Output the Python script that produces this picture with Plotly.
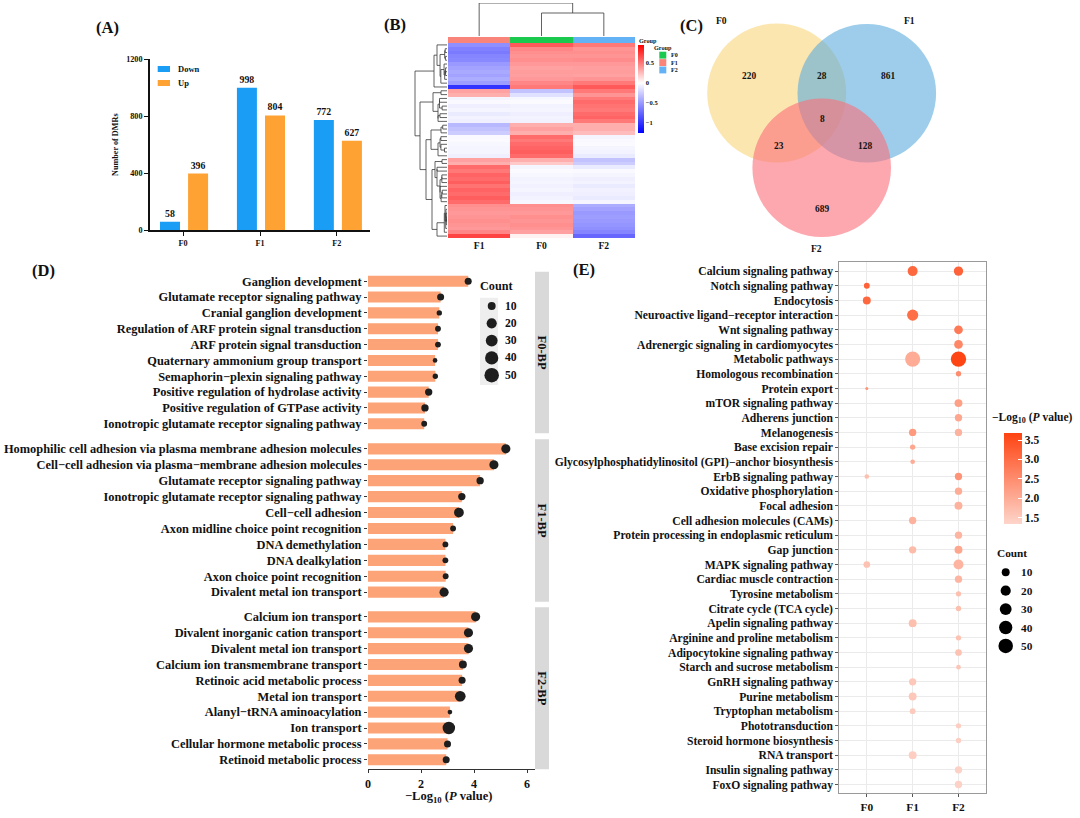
import numpy as np
import plotly.graph_objects as go

W, H = 1080, 818
FONT = "Liberation Serif"

# ---------------- data ----------------
# (A) DMR counts
dmr_groups = ["F0", "F1", "F2"]
dmr_down = [58, 998, 772]
dmr_up = [396, 804, 627]

# (B) heatmap (columns displayed F1, F0, F2), one value per row
heat_cols = ["F1", "F0", "F2"]
heat_F1 = [-0.55, -0.62, -0.65, -0.6, -0.58, -0.5, -0.45, -0.42, -0.45, -0.4, -0.48,
           -1.0,
           0.35, 0.3,
           -0.05, -0.03, -0.08, -0.05, -0.1, -0.06, -0.08,
           -0.35, -0.3, -0.25,
           -0.03, -0.02, -0.04, -0.05, -0.05, -0.08,
           0.35, 0.3,
           0.55, 0.5, 0.58, 0.55, 0.6, 0.52, 0.58, 0.55, 0.6, 0.55,
           0.42, 0.4, 0.38, 0.4, 0.42, 0.4, 0.38, 0.45, 0.7]
heat_F0 = [0.62, 0.45, 0.42, 0.4, 0.42, 0.38, 0.35, 0.37, 0.36, 0.38, 0.45,
           0.5,
           -0.3, -0.15,
           -0.04, -0.02, -0.06, -0.05, -0.08, -0.06, -0.07,
           0.3, 0.35, 0.3,
           0.55, 0.5, 0.55, 0.58, 0.6, 0.55,
           0.3, 0.2,
           -0.05, -0.02, -0.04, -0.06, -0.05, -0.07, -0.05, -0.08, -0.06, -0.04,
           0.42, 0.4, 0.38, 0.42, 0.4, 0.42, 0.4, 0.35, 0.05]
heat_F2 = [0.5, 0.4, 0.42, 0.4, 0.43, 0.38, 0.36, 0.37, 0.35, 0.4, 0.5,
           0.62,
           0.5, 0.4,
           0.5, 0.55, 0.52, 0.5, 0.55, 0.58, 0.5,
           0.3, 0.3, 0.25,
           -0.05, -0.03, -0.02, -0.05, -0.06, -0.1,
           -0.3, -0.25,
           -0.1, -0.03, -0.05, -0.08, -0.06, -0.1, -0.07, -0.08, -0.1, -0.05,
           -0.4, -0.45, -0.5, -0.48, -0.5, -0.52, -0.55, -0.6, -0.75]
row_block_sizes = [11, 1, 2, 7, 3, 6, 2, 10, 9]
row_block_heights = [10, 0, 6, 9, 6, 9, 5, 10, 10]
row_tree = [32, [13, 0, 1], [27, [14, 2, 3], [21, [16, 4, 5], [15, [12, 6, 7], 8]]]]
col_tree = [33, 0, [23, 1, 2]]
group_colors = {"F0": "#1CC94F", "F1": "#F98479", "F2": "#63B2F6"}

# (C) Venn counts
venn_sets = ["F0", "F1", "F2"]
venn_regions = ["F0", "F0&F1", "F1", "F0&F1&F2", "F0&F2", "F1&F2", "F2"]
venn_counts = [220, 28, 861, 8, 23, 128, 689]

# (D) GO BP enrichment
d_f0_terms = ["Ganglion development", "Glutamate receptor signaling pathway",
              "Cranial ganglion development", "Regulation of ARF protein signal transduction",
              "ARF protein signal transduction", "Quaternary ammonium group transport",
              "Semaphorin\u2212plexin signaling pathway", "Positive regulation of hydrolase activity",
              "Positive regulation of GTPase activity", "Ionotropic glutamate receptor signaling pathway"]
d_f0_logp = [3.78, 2.74, 2.69, 2.64, 2.64, 2.53, 2.54, 2.29, 2.15, 2.12]
d_f0_count = [7, 7, 3, 4, 4, 2, 3, 8, 8, 4]
d_f1_terms = ["Homophilic cell adhesion via plasma membrane adhesion molecules",
              "Cell\u2212cell adhesion via plasma\u2212membrane adhesion molecules",
              "Glutamate receptor signaling pathway", "Ionotropic glutamate receptor signaling pathway",
              "Cell\u2212cell adhesion", "Axon midline choice point recognition",
              "DNA demethylation", "DNA dealkylation", "Axon choice point recognition",
              "Divalent metal ion transport"]
d_f1_logp = [5.2, 4.75, 4.23, 3.54, 3.43, 3.21, 2.92, 2.92, 2.93, 2.87]
d_f1_count = [15, 15, 8, 8, 18, 4, 4, 4, 4, 15]
d_f2_terms = ["Calcium ion transport", "Divalent inorganic cation transport",
              "Divalent metal ion transport", "Calcium ion transmembrane transport",
              "Retinoic acid metabolic process", "Metal ion transport",
              "Alanyl\u2212tRNA aminoacylation", "Ion transport",
              "Cellular hormone metabolic process", "Retinoid metabolic process"]
d_f2_logp = [4.06, 3.79, 3.79, 3.58, 3.55, 3.48, 3.09, 3.05, 3.0, 2.95]
d_f2_count = [15, 15, 15, 10, 7, 23, 2, 34, 7, 7]
facet_labels = ["F0-BP", "F1-BP", "F2-BP"]
count_breaks = [10, 20, 30, 40, 50]

# (E) KEGG enrichment
e_terms = ["Calcium signaling pathway", "Notch signaling pathway", "Endocytosis",
           "Neuroactive ligand\u2212receptor interaction", "Wnt signaling pathway",
           "Adrenergic signaling in cardiomyocytes", "Metabolic pathways",
           "Homologous recombination", "Protein export", "mTOR signaling pathway",
           "Adherens junction", "Melanogenesis", "Base excision repair",
           "Glycosylphosphatidylinositol (GPI)\u2212anchor biosynthesis", "ErbB signaling pathway",
           "Oxidative phosphorylation", "Focal adhesion", "Cell adhesion molecules (CAMs)",
           "Protein processing in endoplasmic reticulum", "Gap junction", "MAPK signaling pathway",
           "Cardiac muscle contraction", "Tyrosine metabolism", "Citrate cycle (TCA cycle)",
           "Apelin signaling pathway", "Arginine and proline metabolism",
           "Adipocytokine signaling pathway", "Starch and sucrose metabolism",
           "GnRH signaling pathway", "Purine metabolism", "Tryptophan metabolism",
           "Phototransduction", "Steroid hormone biosynthesis", "RNA transport",
           "Insulin signaling pathway", "FoxO signaling pathway"]
e_F0_logp = [None, 3.2, 3.1, None, None, None, None, None, 2.4, None,
             None, None, None, None, 1.7, None, None, None, None, None,
             1.65, None, None, None, None, None, None, None, None, None,
             None, None, None, None, None, None]
e_F0_count = [None, 4, 10, None, None, None, None, None, 1, None,
              None, None, None, None, 2, None, None, None, None, None,
              6, None, None, None, None, None, None, None, None, None,
              None, None, None, None, None, None]
e_F1_logp = [3.1, None, None, 3.0, None, None, 2.0, None, None, None,
             None, 2.3, 2.1, 2.0, None, None, None, 1.9, None, 1.75,
             None, None, None, None, 1.7, None, None, None, 1.55, 1.55,
             1.5, None, None, 1.45, None, None]
e_F1_count = [19, None, None, 26, None, None, 55, None, None, None,
              None, 8, 3, 2, None, None, None, 8, None, 8,
              None, None, None, None, 10, None, None, None, 8, 10,
              4, None, None, 10, None, None]
e_F2_logp = [3.2, None, None, None, 2.8, 2.6, 3.65, 2.5, None, 2.2,
             2.1, 1.9, None, None, 2.4, 2.0, 1.9, None, 1.85, 2.1,
             1.85, 1.85, 1.7, 1.7, None, 1.65, 1.65, 1.6, None, None,
             None, 1.45, 1.45, None, 1.4, 1.4]
e_F2_count = [16, None, None, None, 13, 13, 58, 3, None, 10,
              8, 8, None, None, 8, 8, 10, None, 8, 10,
              19, 8, 3, 3, None, 3, 6, 2, None, None,
              None, 3, 3, None, 8, 8]

# ---------------- helpers ----------------
def PX(x): return x / W
def PY(y): return 1 - y / H
def dom_x(a, b): return [a / W, b / W]
def dom_y(t, b): return [1 - b / H, 1 - t / H]
def bfont(size, color="#111111"):
    return dict(family=FONT, size=size, color=color, weight="bold")
def dot_px(c):
    return 3 + 11.5 * np.sqrt((c - 1) / 49.0)

annotations, shapes = [], []
def ann(text, x, y, size, xanchor="center", yanchor="middle", angle=0, color="#111111"):
    annotations.append(dict(text=text, x=PX(x), y=PY(y), xref="paper", yref="paper",
                            showarrow=False, xanchor=xanchor, yanchor=yanchor,
                            textangle=angle, font=bfont(size, color)))
def rect(x0, y0, x1, y1, color, kind="rect", opacity=1.0, layer="above"):
    shapes.append(dict(type=kind, xref="paper", yref="paper", x0=PX(x0), x1=PX(x1),
                       y0=PY(y1), y1=PY(y0), fillcolor=color, line=dict(width=0),
                       opacity=opacity, layer=layer))

fig = go.Figure()
L = {}

# ---------------- (A) ----------------
A_BLUE, A_ORANGE = "#1A9EF5", "#FFA234"
for vals, col, off in [(dmr_down, A_BLUE, -0.30), (dmr_up, A_ORANGE, 0.065)]:
    fig.add_trace(go.Bar(x=list(range(len(dmr_groups))), y=vals, width=0.26, offset=off,
                         marker=dict(color=col, line=dict(width=0)),
                         text=[str(v) for v in vals], textposition="outside",
                         constraintext="none", textfont=bfont(9.8), cliponaxis=False,
                         xaxis="x", yaxis="y"))
L["xaxis"] = dict(domain=dom_x(150, 370), range=[-0.43, 2.43], anchor="y",
                  tickvals=[0, 1, 2], ticktext=dmr_groups, showline=True, linecolor="#111",
                  linewidth=1.6, ticks="outside", ticklen=4, tickwidth=1.4, tickcolor="#111",
                  tickfont=bfont(8.2), showgrid=False, zeroline=False)
L["yaxis"] = dict(domain=dom_y(59, 230), range=[0, 1200], anchor="x",
                  tickvals=[0, 400, 800, 1200], showline=True, linecolor="#111",
                  linewidth=1.6, ticks="outside", ticklen=4, tickwidth=1.4, tickcolor="#111",
                  tickfont=bfont(8.2), showgrid=False, zeroline=False)
ann("Number of DMRs", 115, 145, 8.2, angle=-90)
rect(157.7, 66, 170, 72, A_BLUE)
rect(157.7, 80, 170, 86, A_ORANGE)
ann("Down", 176, 69.3, 8.5, xanchor="left")
ann("Up", 176, 83.3, 8.5, xanchor="left")
ann("(A)", 107, 27, 16.5)

# ---------------- (B) ----------------
Z = np.column_stack([heat_F1, heat_F0, heat_F2])
nrow = Z.shape[0]
fig.add_trace(go.Heatmap(z=Z, x=list(range(3)), y=list(range(nrow)), coloraxis="coloraxis2",
                         xaxis="x2", yaxis="y2", hoverinfo="skip"))
gcode = {"F0": 0, "F1": 1, "F2": 2}
fig.add_trace(go.Heatmap(z=[[gcode[c] for c in heat_cols]], x=list(range(3)), y=[0],
                         zmin=0, zmax=2, showscale=False, xaxis="x3", yaxis="y3",
                         colorscale=[[0, group_colors["F0"]], [0.33, group_colors["F0"]],
                                     [0.33, group_colors["F1"]], [0.67, group_colors["F1"]],
                                     [0.67, group_colors["F2"]], [1, group_colors["F2"]]],
                         hoverinfo="skip"))

seg_pos, seg_h = [], []
def link(a, b, h):
    (pa, ha), (pb, hb) = a, b
    seg_h.extend([ha, h, h, hb, None])
    seg_pos.extend([pa, pa, pb, pb, None])
    return ((pa + pb) / 2.0, h)

starts = np.cumsum([0] + row_block_sizes[:-1])
def block_node(k):
    rows = list(range(int(starts[k]), int(starts[k]) + row_block_sizes[k]))
    if len(rows) == 1:
        return (float(rows[0]), 0.0)
    cl = [[r] for r in rows]
    steps = []
    while len(cl) > 1:
        d = [np.mean([np.linalg.norm(Z[i] - Z[j]) for i in cl[t] for j in cl[t + 1]])
             for t in range(len(cl) - 1)]
        t = int(np.argmin(d))
        steps.append((t, d[t]))
        cl[t] = cl[t] + cl.pop(t + 1)
    top = max(s[1] for s in steps) or 1.0
    nodes = [(float(r), 0.0) for r in rows]
    for t, dist in steps:
        h = max(dist / top * row_block_heights[k], nodes[t][1], nodes[t + 1][1])
        a = nodes[t]
        b = nodes.pop(t + 1)
        nodes[t] = link(a, b, h)
    return nodes[0]

def row_node(node):
    if isinstance(node, int):
        return block_node(node)
    h, a, b = node
    return link(row_node(a), row_node(b), h)
row_node(row_tree)
fig.add_trace(go.Scatter(x=seg_h, y=seg_pos, mode="lines", line=dict(color="#3a3a3a", width=0.8),
                         xaxis="x4", yaxis="y4", hoverinfo="skip"))
seg_pos, seg_h = [], []
def col_node(node):
    if isinstance(node, int):
        return (float(node), 0.0)
    h, a, b = node
    return link(col_node(a), col_node(b), h)
col_node(col_tree)
fig.add_trace(go.Scatter(x=seg_pos, y=seg_h, mode="lines", line=dict(color="#3a3a3a", width=0.8),
                         xaxis="x5", yaxis="y5", hoverinfo="skip"))

L["xaxis2"] = dict(domain=dom_x(448, 635), range=[-0.5, 2.5], anchor="y2", tickvals=[0, 1, 2],
                   ticktext=heat_cols, ticks="", showline=False, showgrid=False, zeroline=False,
                   tickfont=bfont(9.6))
L["yaxis2"] = dict(domain=dom_y(43, 238), range=[nrow - 0.5, -0.5], anchor="x2", visible=False)
L["xaxis3"] = dict(domain=dom_x(448, 635), range=[-0.5, 2.5], anchor="y3", visible=False)
L["yaxis3"] = dict(domain=dom_y(37, 43), range=[-0.5, 0.5], anchor="x3", visible=False)
L["xaxis4"] = dict(domain=dom_x(413, 447), range=[34, 0], anchor="y4", visible=False)
L["yaxis4"] = dict(domain=dom_y(43, 238), range=[nrow - 0.5, -0.5], anchor="x4", visible=False)
L["xaxis5"] = dict(domain=dom_x(448, 635), range=[-0.5, 2.5], anchor="y5", visible=False)
L["yaxis5"] = dict(domain=dom_y(3, 36), range=[0, 33], anchor="x5", visible=False)
zmin, zmax = -1.25, 0.95
L["coloraxis2"] = dict(cmin=zmin, cmax=zmax,
                       colorscale=[[0, "#0000FF"], [(0 - zmin) / (zmax - zmin), "#FFFFFF"], [1, "#FF0000"]],
                       colorbar=dict(x=PX(637.5), xanchor="left", y=PY(45), yanchor="top",
                                     len=88 / H, lenmode="fraction", thickness=6, outlinewidth=0,
                                     xpad=0, ypad=0, tickvals=[-1, -0.5, 0, 0.5],
                                     ticktext=["\u22121", "\u22120.5", "0", "0.5"], ticks="",
                                     tickfont=bfont(6.5)))
ann("Group", 637, 40.5, 6.2, xanchor="left")
ann("Group", 663, 47.5, 6.2)
for i, g in enumerate(["F0", "F1", "F2"]):
    rect(659.3, 51.7 + 7.4 * i, 666.3, 58.6 + 7.4 * i, group_colors[g])
    ann(g, 668.5, 55.2 + 7.4 * i, 6, xanchor="left")
ann("(B)", 395, 24, 16.5)

# ---------------- (C) Venn ----------------
venn_geom = [(776.7, 93.0, 69.5), (866.8, 93.3, 69.3), (821.7, 167.8, 69.3)]
venn_fill = ["#FAD57B", "#5CACDC", "#FC6E7A"]
for (cx, cy, r), col in zip(venn_geom, venn_fill):
    rect(cx - r, cy - r, cx + r, cy + r, col, kind="circle", opacity=0.6)
venn_label_pos = [(721.7, 20), (909, 20), (816.7, 248.3)]
for s, (x, y) in zip(venn_sets, venn_label_pos):
    ann(s, x, y, 9.6)
venn_region_pos = [(749, 75.7), (822, 75.7), (887.7, 75.7), (822.7, 119),
                   (778.7, 145.7), (864.7, 145.7), (822, 209)]
for c, (x, y) in zip(venn_counts, venn_region_pos):
    ann(str(c), x, y, 9.4)
ann("(C)", 691.7, 26, 16.5)

# ---------------- (D) ----------------
D_BAR, DOT = "#FCA377", "#1E1E1E"
facet_px = [(271.7, 433.3), (439.3, 601.7), (607.3, 769.3)]
facets = [(d_f0_terms, d_f0_logp, d_f0_count), (d_f1_terms, d_f1_logp, d_f1_count),
          (d_f2_terms, d_f2_logp, d_f2_count)]
for k, (terms, logp, cnt) in enumerate(facets):
    xa, ya = "x%d" % (6 + k), "y%d" % (6 + k)
    fig.add_trace(go.Bar(orientation="h", y=terms, x=logp, width=0.7,
                         marker=dict(color=D_BAR, line=dict(width=0)), xaxis=xa, yaxis=ya))
    fig.add_trace(go.Scatter(x=logp, y=terms, mode="markers", cliponaxis=False,
                             marker=dict(size=[dot_px(c) for c in cnt], color=DOT, opacity=1,
                                         line=dict(width=0)),
                             xaxis=xa, yaxis=ya))
    last = (k == 2)
    L["xaxis%d" % (6 + k)] = dict(domain=dom_x(368, 535), range=[0, 6.3], anchor=ya,
                                  showgrid=False, zeroline=False, showline=last, linecolor="#333",
                                  linewidth=1.2, ticks="outside" if last else "", ticklen=3,
                                  tickcolor="#333", tickvals=[0, 2, 4, 6], showticklabels=last,
                                  tickfont=bfont(12))
    L["yaxis%d" % (6 + k)] = dict(domain=dom_y(*facet_px[k]), anchor=xa, type="category",
                                  categoryorder="array", categoryarray=terms, range=[9.6, -0.6],
                                  ticks="outside", ticklen=3, tickcolor="#333", showgrid=False,
                                  zeroline=False, showline=False, tickfont=bfont(12.4))
    top, bot = facet_px[k]
    rect(535, top, 549, bot, "#D9D9D9")
    ann(facet_labels[k], 542, (top + bot) / 2, 12.5, angle=90)
ann("\u2212Log<sub>10</sub> (<i>P</i> value)", 448, 797, 12.5)
ann("(D)", 43, 270, 16.5)
# Count legend (D)
rect(480, 297.7, 498, 385, "#EEEEEE", layer="below")
ann("Count", 496, 285.7, 12.2)
fig.add_trace(go.Scatter(x=[491.7] * len(count_breaks), y=[306 + 17.3 * i for i in range(len(count_breaks))],
                         mode="markers", marker=dict(size=[dot_px(c) for c in count_breaks], color=DOT,
                                                     opacity=1, line=dict(width=0)),
                         xaxis="x10", yaxis="y10", hoverinfo="skip"))
for i, c in enumerate(count_breaks):
    ann(str(c), 503, 306 + 17.3 * i, 11.7, xanchor="left")

# ---------------- (E) ----------------
for g, lp, cn in [("F0", e_F0_logp, e_F0_count), ("F1", e_F1_logp, e_F1_count),
                  ("F2", e_F2_logp, e_F2_count)]:
    idx = [i for i, v in enumerate(lp) if v is not None]
    fig.add_trace(go.Scatter(x=[g] * len(idx), y=[e_terms[i] for i in idx], mode="markers",
                             marker=dict(size=[dot_px(cn[i]) for i in idx], color=[lp[i] for i in idx],
                                         coloraxis="coloraxis", line=dict(width=0), opacity=1),
                             xaxis="x9", yaxis="y9", cliponaxis=False))
L["xaxis9"] = dict(domain=dom_x(839.3, 986), anchor="y9", type="category", categoryorder="array",
                   categoryarray=dmr_groups, range=[-0.6, 2.6], showgrid=True, gridcolor="#EBEBEB",
                   gridwidth=1, showline=True, mirror=True, linecolor="#9A9A9A", linewidth=1,
                   ticks="outside", ticklen=3, tickcolor="#555", zeroline=False, tickfont=bfont(11.4))
L["yaxis9"] = dict(domain=dom_y(262.3, 793.3), anchor="x9", type="category", categoryorder="array",
                   categoryarray=e_terms, range=[len(e_terms) - 0.4, -0.6], showgrid=True,
                   gridcolor="#EBEBEB", gridwidth=1, showline=True, mirror=True, linecolor="#9A9A9A",
                   linewidth=1, ticks="outside", ticklen=3, tickcolor="#555", zeroline=False,
                   tickfont=bfont(11.6))
L["coloraxis"] = dict(cmin=1.34, cmax=3.69, colorscale=[[0, "#FDD5CA"], [1, "#FF4311"]],
                      colorbar=dict(x=PX(1004), xanchor="left", y=PY(432.7), yanchor="top",
                                    len=(523.3 - 432.7) / H, lenmode="fraction", thickness=18,
                                    outlinewidth=0, xpad=0, ypad=0,
                                    tickvals=[1.5, 2.0, 2.5, 3.0, 3.5],
                                    ticktext=["1.5", "2.0", "2.5", "3.0", "3.5"],
                                    ticks="inside", ticklen=4, tickcolor="white",
                                    tickfont=bfont(11.5)))
ann("\u2212Log<sub>10</sub> (<i>P</i> value)", 990, 418.3, 11.5, xanchor="left")
ann("Count", 1011.7, 552.7, 11.3)
fig.add_trace(go.Scatter(x=[1005.7] * len(count_breaks), y=[572.3 + 18.4 * i for i in range(len(count_breaks))],
                         mode="markers", marker=dict(size=[dot_px(c) for c in count_breaks], color="#000000",
                                                     opacity=1, line=dict(width=0)),
                         xaxis="x10", yaxis="y10", hoverinfo="skip"))
for i, c in enumerate(count_breaks):
    ann(str(c), 1019, 572.3 + 18.4 * i, 11.3, xanchor="left")
ann("(E)", 584, 269, 16.5)

# canvas axis for legend keys
L["xaxis10"] = dict(domain=[0, 1], range=[0, W], anchor="y10", visible=False, fixedrange=True)
L["yaxis10"] = dict(domain=[0, 1], range=[H, 0], anchor="x10", visible=False, fixedrange=True)

fig.update_layout(width=W, height=H, margin=dict(l=0, r=0, t=0, b=0, autoexpand=False),
                  showlegend=False, paper_bgcolor="white", plot_bgcolor="rgba(0,0,0,0)",
                  barmode="overlay", font=dict(family=FONT, color="#111111"),
                  annotations=annotations, shapes=shapes, **L)
fig.write_html("out.html", config={"displayModeBar": False},
               post_script="document.body.style.margin='0';document.body.style.overflow='hidden';")
